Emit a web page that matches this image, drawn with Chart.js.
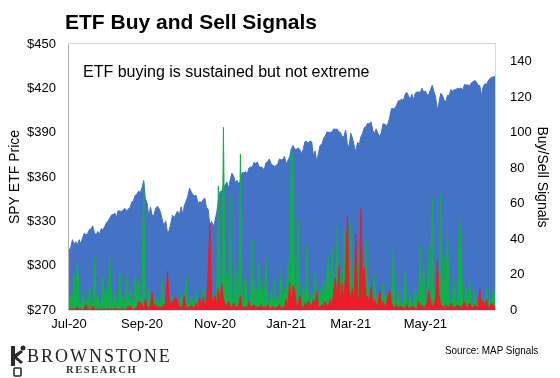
<!DOCTYPE html>
<html><head><meta charset="utf-8">
<script src="https://cdn.jsdelivr.net/npm/chart.js@4.4.1/dist/chart.umd.min.js"></script>
<style>
html,body{margin:0;padding:0;background:#fff;}
#wrap{position:relative;width:560px;height:378px;overflow:hidden;font-family:'Liberation Sans',Arial,sans-serif;background:#fff;}
#c{position:absolute;left:0;top:0;}
.t{position:absolute;white-space:nowrap;color:#000;}
</style></head><body>
<div id="wrap">
<canvas id="c" width="560" height="378"></canvas>
<div class="t" style="left:65px;top:10.5px;font-size:21px;line-height:21px;font-weight:bold;">ETF Buy and Sell Signals</div>
<div class="t" style="left:83px;top:63.5px;font-size:16px;line-height:16px;">ETF buying is sustained but not extreme</div>
<svg style="position:absolute;left:9px;top:344px;" width="18" height="34" viewBox="0 0 18 34">
  <path d="M2 2 L6 2 L6 10 L12 6 L14 8 L8 13 L14 18 L12 20 L6 15 L6 22 L2 22 Z" fill="#2b2b2b"/>
  <circle cx="14" cy="4" r="2.5" fill="#2b2b2b"/>
  <rect x="5" y="24" width="7" height="8" rx="1" fill="none" stroke="#2b2b2b" stroke-width="1.6"/>
</svg>
<div class="t" style="left:27px;top:346.5px;font-family:'Liberation Serif','Times New Roman',serif;font-size:18px;line-height:18px;letter-spacing:2px;color:#222;">BROWNSTONE</div>
<div class="t" style="left:66px;top:364px;font-family:'Liberation Serif','Times New Roman',serif;font-weight:bold;font-size:10.5px;line-height:11px;letter-spacing:1.6px;color:#333;">RESEARCH</div>
<div class="t" style="left:445px;top:344px;font-size:11.5px;line-height:12px;color:#000;transform:scaleX(0.86);transform-origin:0 0;">Source: MAP Signals</div>
</div>
<script>
// Categories: trading days per month
const months = ['Jul-20','Aug-20','Sep-20','Oct-20','Nov-20','Dec-20','Jan-21','Feb-21','Mar-21','Apr-21','May-21','Jun-21'];
const tradingDays = [
  [1,2,6,7,8,9,10,13,14,15,16,17,20,21,22,23,24,27,28,29,30,31],
  [3,4,5,6,7,10,11,12,13,14,17,18,19,20,21,24,25,26,27,28,31],
  [1,2,3,4,8,9,10,11,14,15,16,17,18,21,22,23,24,25,28,29,30],
  [1,2,5,6,7,8,9,12,13,14,15,16,19,20,21,22,23,26,27,28,29,30],
  [2,3,4,5,6,9,10,11,12,13,16,17,18,19,20,23,24,25,27,30],
  [1,2,3,4,7,8,9,10,11,14,15,16,17,18,21,22,23,24,28,29,30,31],
  [4,5,6,7,8,11,12,13,14,15,19,20,21,22,25,26,27,28,29],
  [1,2,3,4,5,8,9,10,11,12,16,17,18,19,22,23,24,25,26],
  [1,2,3,4,5,8,9,10,11,12,15,16,17,18,19,22,23,24,25,26,29,30,31],
  [1,5,6,7,8,9,12,13,14,15,16,19,20,21,22,23,26,27,28,29,30],
  [3,4,5,6,7,10,11,12,13,14,17,18,19,20,21,24,25,26,27,28],
  [1,2,3,4,7,8,9,10,11,14,15,16,17,18,21,22,23,24,25,28,29,30]
];
const tickLabels = ['Jul-20','Sep-20','Nov-20','Jan-21','Mar-21','May-21'];

// SPY ETF price (left axis)
const spyPrice = [
  310.5,312.2,317.6,314.4,316.2,314.4,317.6,314.8,318.9,321.9,320.8,321.7,324.3,325.0,326.9,322.2,320.9,323.2,321.2,325.1,323.9,326.5,
  328.8,330.1,332.1,334.3,334.6,335.6,332.8,337.4,336.8,336.8,337.9,338.6,337.2,338.3,339.5,343.0,344.1,347.6,348.3,350.6,349.3,
  352.6,357.7,345.4,342.6,333.2,339.8,333.9,334.1,338.5,340.2,338.8,335.8,330.7,327.0,330.3,322.6,323.5,328.7,334.2,332.4,334.9,
  337.0,333.8,339.8,334.9,340.8,343.8,346.9,352.4,350.1,347.9,347.5,347.3,342.0,343.4,342.7,344.6,345.8,339.4,338.2,326.7,330.0,326.5,
  330.2,336.0,343.5,350.2,350.2,354.6,354.0,356.7,352.2,358.1,362.6,360.6,356.3,357.8,355.3,357.5,363.2,362.7,363.7,362.1,
  366.0,366.8,366.7,369.9,369.1,370.2,366.9,366.7,366.3,364.7,369.6,370.2,372.2,369.2,367.9,367.2,367.6,369.0,372.2,371.5,372.0,373.9,
  368.8,371.3,373.6,379.1,381.3,378.7,378.8,379.8,378.5,375.7,378.7,383.9,384.2,382.9,384.4,383.8,374.4,377.6,370.1,
  376.2,381.6,381.9,386.2,387.7,390.5,390.3,390.1,390.7,392.6,392.3,392.4,390.7,390.0,387.0,387.5,391.8,382.3,380.4,
  389.6,386.5,381.4,376.7,383.6,381.7,387.2,389.6,393.5,394.1,396.4,395.9,397.3,391.5,389.5,392.6,389.5,387.5,389.7,396.0,395.8,394.7,396.3,
  400.6,406.4,406.1,406.6,408.5,411.5,411.6,412.9,411.5,415.9,417.3,415.2,412.2,416.1,412.3,416.7,417.6,417.5,417.4,420.1,417.3,
  418.2,415.6,415.8,419.1,422.1,417.9,414.2,405.4,410.3,416.6,415.5,411.9,410.9,415.3,414.9,419.2,418.2,419.1,419.3,420.0,
  419.7,420.3,418.8,422.6,422.2,422.3,421.7,423.6,424.3,425.3,424.5,422.1,422.0,414.9,420.9,423.1,422.6,425.1,426.6,427.5,427.7,428.1
];

// Buy signals (green, right axis)
const buySignals = [
  4,8,5,20,6,28,4,3,10,3,6,2,14,4,3,30,5,8,3,4,19,5,
  12,3,31,6,4,10,3,5,22,4,8,3,19,4,10,3,5,19,8,17,4,
  6,72,5,3,12,4,3,8,2,6,3,4,17,3,6,2,3,4,8,3,5,
  3,4,10,3,5,19,4,3,8,3,4,10,3,2,5,13,3,4,6,3,4,10,
  5,8,70,10,6,103,8,20,5,64,6,4,28,5,8,88,6,4,20,5,
  4,8,40,5,15,4,26,5,12,4,30,5,4,10,3,17,4,8,3,23,5,12,
  5,28,6,90,85,8,6,51,5,4,15,4,36,5,4,10,3,21,4,
  6,12,4,17,5,21,30,6,35,5,8,47,6,20,5,45,6,8,10,
  49,6,25,5,8,35,6,10,5,40,6,15,4,5,20,4,10,3,5,15,4,8,3,
  5,4,34,5,3,10,4,3,5,22,4,3,8,3,4,12,3,5,36,6,25,
  4,6,36,5,63,6,15,5,8,66,6,30,5,45,6,4,8,17,4,5,
  53,36,5,4,12,3,17,4,3,10,3,4,6,8,3,4,12,3,6,4,13,5
];

// Sell signals (red, right axis)
const sellSignals = [
  1,0,1,0,1,2,0,1,0,1,3,1,0,1,2,1,0,1,0,1,0,1,
  0,1,0,1,0,1,1,0,1,0,1,0,1,2,2,1,0,1,1,5,4,
  3,1,6,2,1,3,10,2,3,1,2,1,2,3,4,22,6,3,5,6,7,
  5,2,1,3,8,2,1,2,3,1,2,4,1,7,2,7,3,2,22,49,8,3,
  8,3,12,4,15,6,3,2,5,2,1,4,2,1,3,8,2,1,2,1,
  5,1,2,3,1,2,1,3,1,2,1,3,1,1,2,1,1,2,3,1,1,2,
  6,2,16,3,14,10,2,3,8,2,1,4,2,5,3,2,6,3,10,
  2,1,3,2,5,2,3,6,2,11,18,4,25,3,15,4,21,53,12,
  6,12,5,43,8,5,57,12,24,6,8,4,13,3,6,2,4,11,3,5,2,3,8,
  11,4,2,1,3,1,2,2,1,1,3,1,1,2,2,1,1,5,2,3,1,
  2,4,11,5,2,3,6,28,8,3,2,1,3,2,1,4,2,1,2,3,
  2,1,3,5,2,1,4,2,1,3,2,1,12,3,5,2,6,1,2,4,2,3
];

const labels = [];
const monthStart = {};
months.forEach((m, k) => {
  tradingDays[k].forEach((d, j) => {
    if (j === 0) monthStart[labels.length] = m;
    labels.push(m + ' ' + d);
  });
});

const framePlugin = {
  id: 'frame',
  afterDatasetsDraw(chart) {
    const a = chart.chartArea, ctx = chart.ctx;
    ctx.save();
    ctx.strokeStyle = '#D9D9D9';
    ctx.lineWidth = 1;
    ctx.strokeRect(Math.round(a.left) - 0.5, Math.round(a.top) - 0.5, Math.round(a.right - a.left) + 1, Math.round(a.bottom - a.top) + 1);
    ctx.strokeStyle = '#B0B0B0';
    ctx.beginPath();
    ctx.moveTo(Math.round(a.left) - 0.5, a.top);
    ctx.lineTo(Math.round(a.left) - 0.5, a.bottom);
    ctx.stroke();
    ctx.restore();
  }
};

const tickFont = { family: "'Liberation Sans', Arial, sans-serif", size: 13 };
const titleFont = { family: "'Liberation Sans', Arial, sans-serif", size: 14 };

new Chart(document.getElementById('c'), {
  type: 'line',
  data: {
    labels: labels,
    datasets: [
      { label: 'SPY', data: spyPrice, yAxisID: 'y', order: 3,
        backgroundColor: '#4472C4', borderColor: '#4472C4', borderWidth: 1,
        fill: 'start', pointRadius: 0, tension: 0 },
      { label: 'Buy', data: buySignals, yAxisID: 'y1', order: 2,
        backgroundColor: '#12B04A', borderColor: '#12B04A', borderWidth: 1,
        fill: 'origin', pointRadius: 0, tension: 0 },
      { label: 'Sell', data: sellSignals, yAxisID: 'y1', order: 1,
        backgroundColor: '#EC1C2A', borderColor: '#EC1C2A', borderWidth: 1,
        fill: 'origin', pointRadius: 0, tension: 0 }
    ]
  },
  options: {
    responsive: false,
    devicePixelRatio: 1,
    animation: false,
    layout: { padding: { top: 44, left: 0, right: 0, bottom: 0 } },
    plugins: { legend: { display: false }, tooltip: { enabled: false }, title: { display: false } },
    scales: {
      x: {
        type: 'category', offset: false,
        grid: { display: false, drawTicks: false }, border: { display: false },
        ticks: {
          autoSkip: false, maxRotation: 0, minRotation: 0, padding: 7, color: '#000', font: tickFont,
          callback: function(v, i) {
            const m = monthStart[i];
            return (m && tickLabels.indexOf(m) >= 0) ? m : null;
          }
        },
        afterFit: function(s) { s.height = 68; }
      },
      y: {
        position: 'left', min: 270, max: 450,
        grid: { display: false, drawTicks: false }, border: { display: false },
        ticks: { stepSize: 30, padding: 13, color: '#000', font: tickFont, callback: v => '$' + v },
        title: { display: true, text: 'SPY ETF Price', color: '#000', font: titleFont, padding: { top: 7, bottom: 0 } },
        afterFit: function(s) { s.width = 69; }
      },
      y1: {
        position: 'right', min: 0, max: 150,
        grid: { display: false, drawTicks: false }, border: { display: false },
        ticks: { stepSize: 20, padding: 15, color: '#000', font: tickFont, callback: v => (v % 20 === 0 ? String(v) : null) },
        title: { display: true, text: 'Buy/Sell Signals', color: '#000', font: titleFont, padding: { top: 10, bottom: 0 } },
        afterFit: function(s) { s.width = 65; }
      }
    }
  },
  plugins: [framePlugin]
});
</script>
</body></html>
